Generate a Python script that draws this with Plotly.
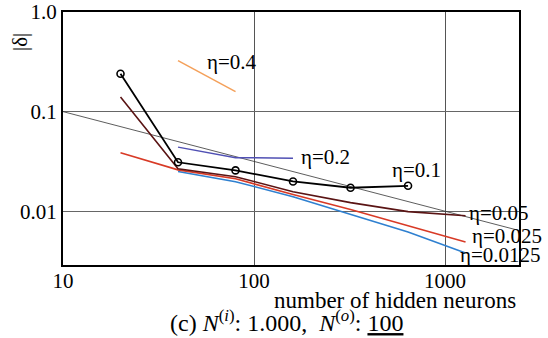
import plotly.graph_objects as go

# ---- data ----
x_eta01 = [20, 40, 80, 160, 320, 640]
y_eta01 = [0.24, 0.031, 0.0257, 0.0199, 0.0172, 0.018]

x_eta04 = [40, 80]
y_eta04 = [0.325, 0.159]

x_eta02 = [40, 80, 160]
y_eta02 = [0.044, 0.0345, 0.034]

x_eta005 = [20, 40, 80, 160, 320, 640, 1280]
y_eta005 = [0.14, 0.0267, 0.0222, 0.0157, 0.0122, 0.0099, 0.009]

x_eta0025 = [20, 40, 80, 160, 320, 640, 1280]
y_eta0025 = [0.0386, 0.026, 0.0212, 0.0147, 0.0104, 0.0071, 0.0049]

x_eta00125 = [40, 80, 160, 320, 640, 1280]
y_eta00125 = [0.025, 0.0198, 0.014, 0.0094, 0.0062, 0.0038]

x_ref = [10, 2440]
y_ref = [0.1, 0.0064]

x_ticks = [10, 100, 1000]
x_ticktext = ["10", "100", "1000"]
y_ticks = [0.01, 0.1, 1.0]
y_ticktext = ["0.01", "0.1", "1.0"]

FONT = "Liberation Serif, Times New Roman, serif"
FS = 21

fig = go.Figure()

fig.add_trace(go.Scatter(x=x_ref, y=y_ref, mode="lines",
                         line=dict(color="#333333", width=0.8), showlegend=False))
fig.add_trace(go.Scatter(x=x_eta04, y=y_eta04, mode="lines",
                         line=dict(color="#f4a05a", width=1.5), showlegend=False))
fig.add_trace(go.Scatter(x=x_eta02, y=y_eta02, mode="lines",
                         line=dict(color="#5050b4", width=1.5), showlegend=False))
fig.add_trace(go.Scatter(x=x_eta00125, y=y_eta00125, mode="lines",
                         line=dict(color="#2f80d0", width=1.6), showlegend=False))
fig.add_trace(go.Scatter(x=x_eta0025, y=y_eta0025, mode="lines",
                         line=dict(color="#d83a26", width=1.6), showlegend=False))
fig.add_trace(go.Scatter(x=x_eta005, y=y_eta005, mode="lines",
                         line=dict(color="#5a1414", width=1.6), showlegend=False))
fig.add_trace(go.Scatter(x=x_eta01, y=y_eta01, mode="lines+markers",
                         line=dict(color="black", width=1.8),
                         marker=dict(symbol="circle-open", size=7, color="black",
                                     line=dict(width=1.6)),
                         showlegend=False))

labels = [
    ("η=0.4", 1.743, -0.502),
    ("η=0.2", 2.236, -1.456),
    ("η=0.1", 2.712, -1.586),
    ("η=0.05", 3.115, -2.018),
    ("η=0.025", 3.131, -2.249),
    ("η=0.0125", 3.068, -2.44),
]
for t, lx, ly in labels:
    fig.add_annotation(text=t, x=lx, y=ly, xref="x", yref="y",
                       xanchor="left", yanchor="middle", showarrow=False,
                       font=dict(family=FONT, size=FS, color="black"))

fig.add_annotation(text="number of hidden neurons", x=518, y=338 - 300,
                   xref="paper", yref="paper", showarrow=False,
                   xanchor="right", yanchor="middle",
                   font=dict(family=FONT, size=23, color="black"))
fig.add_annotation(text="(c) <i>N</i><sup>(<i>i</i>)</sup>: 1.000,  <i>N</i><sup>(<i>o</i>)</sup>: <u>100</u>",
                   x=286, y=338 - 321, xref="paper", yref="paper", showarrow=False,
                   xanchor="center", yanchor="middle",
                   font=dict(family=FONT, size=24, color="black"))
fig.add_annotation(text="|δ|", x=20, y=338 - 42, xref="paper", yref="paper",
                   showarrow=False, textangle=-90, xanchor="center", yanchor="middle",
                   font=dict(family=FONT, size=FS, color="black"))

# convert paper annotations from pixel coordinates
L, R, T, B = 63, 29, 12, 73
W, H = 548, 338
pw, ph = W - L - R, H - T - B
for a in fig.layout.annotations:
    if a.xref == "paper":
        a.x = (a.x - L) / pw
        a.y = (a.y - B) / ph

fig.update_layout(
    width=W, height=H,
    margin=dict(l=L, r=R, t=T, b=B, autoexpand=False),
    paper_bgcolor="white", plot_bgcolor="white",
    font=dict(family=FONT, size=FS, color="black"),
    xaxis=dict(type="log", range=[1, 3.387], tickvals=x_ticks, ticktext=x_ticktext,
               showgrid=True, gridcolor="#555555", gridwidth=1, automargin=False,
               showline=True, linecolor="black", linewidth=2, mirror=True,
               ticks="", zeroline=False, tickfont=dict(family=FONT, size=FS),
               ticklabelstandoff=-4),
    yaxis=dict(type="log", range=[-2.54, 0.0], tickvals=y_ticks, ticktext=y_ticktext,
               showgrid=True, gridcolor="#666666", gridwidth=1, automargin=False,
               showline=True, linecolor="black", linewidth=2, mirror=True,
               ticks="", zeroline=False, tickfont=dict(family=FONT, size=FS)),
)

fig.write_html("out.html", config={"displayModeBar": False},
               post_script="document.body.style.margin='0';document.body.style.overflow='hidden';")
